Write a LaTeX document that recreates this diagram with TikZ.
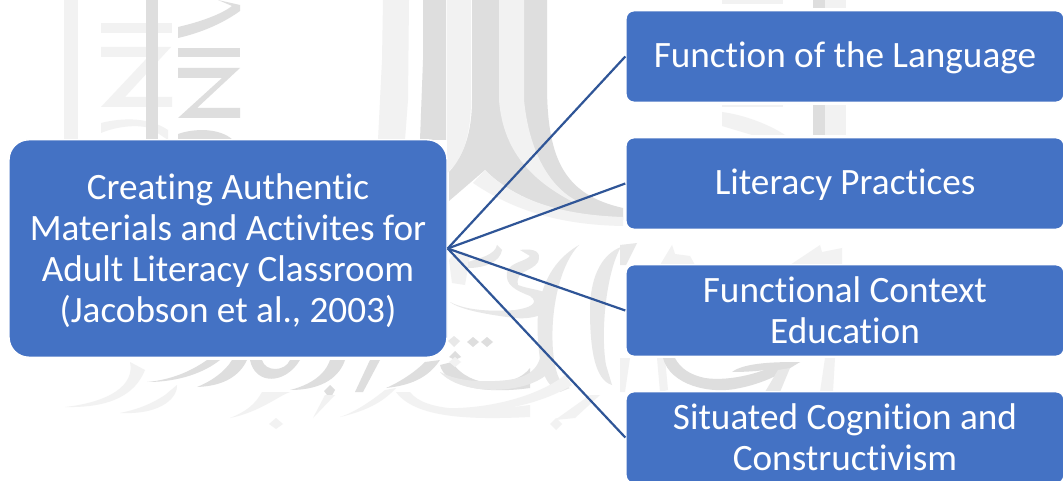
\documentclass[tikz,border=0pt]{standalone}
\usepackage{fontspec}
\setmainfont{Carlito}[Ligatures=NoCommon,Contextuals=NoAlternate]
\definecolor{boxblue}{HTML}{4472C4}
\definecolor{linkblue}{HTML}{2F5597}
\definecolor{wmdark}{HTML}{DEDEDE}
\definecolor{wmmid}{HTML}{E8E8E8}
\definecolor{wmlight}{HTML}{F2F2F2}
\newcommand\toprule{\rule{0pt}{33pt}}
\tikzset{
  x=1pt,y=-1pt,
  box/.style={fill=boxblue,draw=white,line width=1.4pt,text=white,align=center,font=\fontsize{37.2}{41}\selectfont,inner sep=0pt,
    execute at end node={\rule[-8.5pt]{0pt}{0pt}}},
  oneline/.style={execute at begin node={\rule{0pt}{31pt}}},
  mainbox/.style={box,rounded corners=20pt,minimum width=438pt,minimum height=217.5pt},
  sidebox/.style={box,rounded corners=8pt,minimum width=438pt,minimum height=91.5pt},
  link/.style={draw=linkblue,line width=2.2pt},
  wmd/.style={fill=wmdark,draw=none},
  wmm/.style={fill=wmmid,draw=none},
  wml/.style={fill=wmlight,draw=none}
}
\begin{document}
\begin{tikzpicture}
\useasboundingbox (0,0) rectangle (1063,481);
\clip (0,0) rectangle (1063,481);
\fill[white] (0,0) rectangle (1063,481);
% --- watermark, left letter column
\fill[wml] (64,0) rectangle (78,140);
\fill[wml] (101,23) rectangle (172,33);
\fill[wml] (101,47) -- (171,47) -- (125,97) -- (172,97) -- (172,107) -- (101,107) -- (148,57) -- (101,57) -- cycle;
\fill[wml] (101,123) .. controls (125,117) and (150,118) .. (168,130) -- (168,140) -- (150,128) .. controls (135,124) and (115,127) .. (101,133) -- cycle;
\fill[wmd] (146,0) rectangle (158,140);
\fill[wmd] (178,27) .. controls (200,22) and (222,14) .. (232,6) -- (218,0) -- (240,5) -- (240,11) .. controls (222,24) and (200,33) .. (178,38) -- cycle;
\fill[wmd] (178,48) rectangle (240,57);
\fill[wmd] (178,68) -- (240,68) -- (197,108) -- (240,108) -- (240,118) -- (178,118) -- (222,78) -- (178,78) -- cycle;
\fill[wmd] (178,134) .. controls (195,128) and (220,128) .. (233,140) -- (178,140) -- cycle;
% --- watermark, central tall strokes
\fill[wml] (383,0) -- (409,0) -- (408,100) -- (405,140) -- (378,140) -- (382,60) -- cycle;
\fill[wmd] (423,0) -- (446,0) -- (446,140) -- (420,140) -- (423,60) -- cycle;
\fill[wml] (447,0) -- (471,0) -- (471,100) .. controls (471,130) and (465,155) .. (450,170) -- (447,173) -- cycle;
\fill[wmd] (472,0) -- (547,0) -- (547,90) .. controls (548,160) and (565,195) .. (623,208) -- (623,220) .. controls (560,215) and (515,200) .. (485,170) -- (449,201) -- (449,172) .. controls (465,155) and (472,130) .. (472,100) -- cycle;
\fill[wml] (499,0) -- (524,0) -- (524,100) .. controls (530,160) and (555,190) .. (577,201) -- (575,203) .. controls (530,180) and (503,150) .. (499,100) -- cycle;
\fill[wml] (485,170) .. controls (515,200) and (560,215) .. (623,217) -- (623,226) .. controls (570,225) and (520,215) .. (473,183) -- cycle;
% --- watermark, right letter column
\fill[wml] (722,0) rectangle (783,4);
\fill[wml] (722,105) rectangle (783,107);
\fill[wmd] (813,0) rectangle (825,8);
\fill[wml] (825,0) rectangle (846,8);
\fill[wmd] (813,105) rectangle (825,135);
\fill[wml] (825,105) rectangle (846,135);
\fill[wml] (722,112) .. controls (745,115) and (770,125) .. (785,135) -- (752,135) -- (722,126) -- cycle;
% --- watermark, calligraphy under the main box
\fill[wmd] (147,382) .. controls (180,382) and (205,372) .. (220,360) -- (207,360) .. controls (190,372) and (170,380) .. (147,382) -- cycle;
\fill[wmd] (197,387) .. controls (225,386) and (240,375) .. (247,360) -- (232,360) .. controls (225,372) and (210,382) .. (197,387) -- cycle;
\fill[wmd] (250,360) .. controls (255,385) and (285,385) .. (300,360) -- (290,360) .. controls (285,372) and (265,372) .. (262,360) -- cycle;
\fill[wmd] (290,390) .. controls (325,390) and (340,375) .. (345,360) -- (330,360) .. controls (325,375) and (310,385) .. (290,390) -- cycle;
\fill[wmd] (363,392) -- (380,360) -- (370,360) -- (355,392) -- cycle;
\fill[wmd] (386,388) .. controls (415,385) and (430,375) .. (440,360) -- (425,362) .. controls (415,372) and (400,382) .. (386,388) -- cycle;
\fill[wmd] (440,365) .. controls (445,385) and (480,395) .. (530,388) -- (530,368) .. controls (515,388) and (470,390) .. (452,362) -- cycle;
\fill[wmd] (330,385) -- (335,390) -- (330,399) -- (324,391) -- cycle;
\fill[wml] (65,407) .. controls (110,408) and (135,395) .. (145,370) -- (130,362) .. controls (135,385) and (110,402) .. (65,407) -- cycle;
\fill[wml] (120,413) .. controls (165,415) and (178,395) .. (177,385) -- (165,395) .. controls (150,405) and (135,410) .. (120,413) -- cycle;
\fill[wml] (230,418) .. controls (260,412) and (280,395) .. (290,392) -- (262,392) .. controls (255,405) and (245,412) .. (230,418) -- cycle;
\fill[wml] (313,418) -- (335,395) -- (325,395) -- cycle;
\fill[wml] (340,417) .. controls (370,410) and (385,400) .. (396,388) -- (385,390) .. controls (370,402) and (355,412) .. (340,417) -- cycle;
\fill[wml] (396,392) .. controls (415,418) and (470,420) .. (530,417) -- (530,405) .. controls (475,412) and (425,412) .. (410,392) -- cycle;
\fill[wml] (276,418) -- (283,424) -- (276,429) -- (269,424) -- cycle;
\fill[wmd] (455,351) -- (461,357) -- (455,360) -- (449,357) -- cycle;
\fill[wmm] (454,336) -- (460,341) -- (454,347) -- (448,341) -- cycle;
% --- watermark, strokes right of the main box
\fill[wml] (449,260) .. controls (455,250) and (465,250) .. (470,256) -- (465,285) -- (452,283) -- cycle;
\fill[wmm] (468,262) .. controls (480,258) and (495,255) .. (497,245) -- (502,250) .. controls (500,262) and (485,268) .. (468,268) -- cycle;
\fill[wmm] (520,250) .. controls (535,248) and (542,252) .. (538,262) .. controls (532,272) and (515,270) .. (518,285) .. controls (530,290) and (552,290) .. (553,300) .. controls (555,312) and (535,320) .. (515,318) .. controls (490,315) and (460,310) .. (450,302) .. controls (465,310) and (490,312) .. (515,310) .. controls (530,308) and (540,303) .. (530,296) .. controls (515,290) and (505,285) .. (507,272) .. controls (510,262) and (525,262) .. (530,256) -- cycle;
\fill[wmd] (473,337) -- (479,342) -- (473,347) -- (467,342) -- cycle;
\fill[wmd] (487,337) -- (493,342) -- (487,347) -- (481,342) -- cycle;
\fill[wml] (455,357) -- (461,362) -- (455,367) -- (449,362) -- cycle;
\fill[wmm] (579,245) .. controls (555,270) and (548,330) .. (555,365) .. controls (558,380) and (562,385) .. (570,388) -- (560,392) .. controls (545,385) and (540,370) .. (538,340) .. controls (535,300) and (545,265) .. (579,245) -- cycle;
\fill[wmm] (621,247) .. controls (607,270) and (600,330) .. (606,365) -- (612,385) .. controls (595,380) and (590,350) .. (590,310) .. controls (590,280) and (600,255) .. (621,247) -- cycle;
\fill[wmm] (440,372) .. controls (460,395) and (520,395) .. (545,376) .. controls (555,365) and (540,320) .. (541,340) .. controls (545,375) and (520,380) .. (495,381) .. controls (475,382) and (455,380) .. (440,372) -- cycle;
\fill[wml] (440,408) .. controls (490,410) and (540,395) .. (565,375) -- (572,385) .. controls (540,405) and (490,415) .. (440,412) -- cycle;
\fill[wml] (555,420) -- (590,395) -- (600,395) -- (575,418) -- cycle;
\fill[wml] (556,418) -- (562,424) -- (556,430) -- (550,424) -- cycle;
% --- watermark, strokes around the third box
\fill[wmm] (620,245) -- (637,243) -- (626,265) -- (620,265) -- cycle;
\fill[wml] (660,265) -- (672,245) -- (675,254) -- (690,256) -- (695,265) -- cycle;
\fill[wml] (790,265) -- (820,245) -- (822,252) -- (842,248) -- (842,265) -- cycle;
\fill[wml] (620,358) -- (630,358) -- (625,392) -- (620,392) -- cycle;
\fill[wml] (657,358) -- (665,358) -- (668,390) -- (660,392) -- cycle;
\fill[wmd] (663,358) .. controls (670,385) and (710,395) .. (740,388) .. controls (770,382) and (790,368) .. (800,362) -- (782,362) .. controls (765,372) and (730,382) .. (705,378) .. controls (690,375) and (680,368) .. (675,358) -- cycle;
\fill[wmd] (732,372) .. controls (745,362) and (780,362) .. (800,362) .. controls (785,368) and (760,372) .. (732,372) -- cycle;
\fill[wml] (825,358) -- (835,358) -- (833,392) -- (820,392) -- cycle;
\fill[wmm] (765,392) -- (778,370) -- (790,368) -- (780,392) -- cycle;
% --- boxes
\node[mainbox] (m) at (228,248.5) {\toprule Creating Authentic\\Materials and Activites for\\Adult Literacy Classroom\\(Jacobson et al., 2003)};
\node[sidebox,oneline] (a) at (845,56.5) {Function of the Language};
\node[sidebox,oneline] (b) at (845,183.5) {Literacy Practices};
\node[sidebox] (c) at (845,310.5) {\toprule Functional Context\\Education};
\node[sidebox] (d) at (845,437.5) {\toprule Situated Cognition and\\Constructivism};
% --- connectors
\draw[link] (m.east) -- (a.west);
\draw[link] (m.east) -- (b.west);
\draw[link] (m.east) -- (c.west);
\draw[link] (m.east) -- (d.west);
\end{tikzpicture}
\end{document}
